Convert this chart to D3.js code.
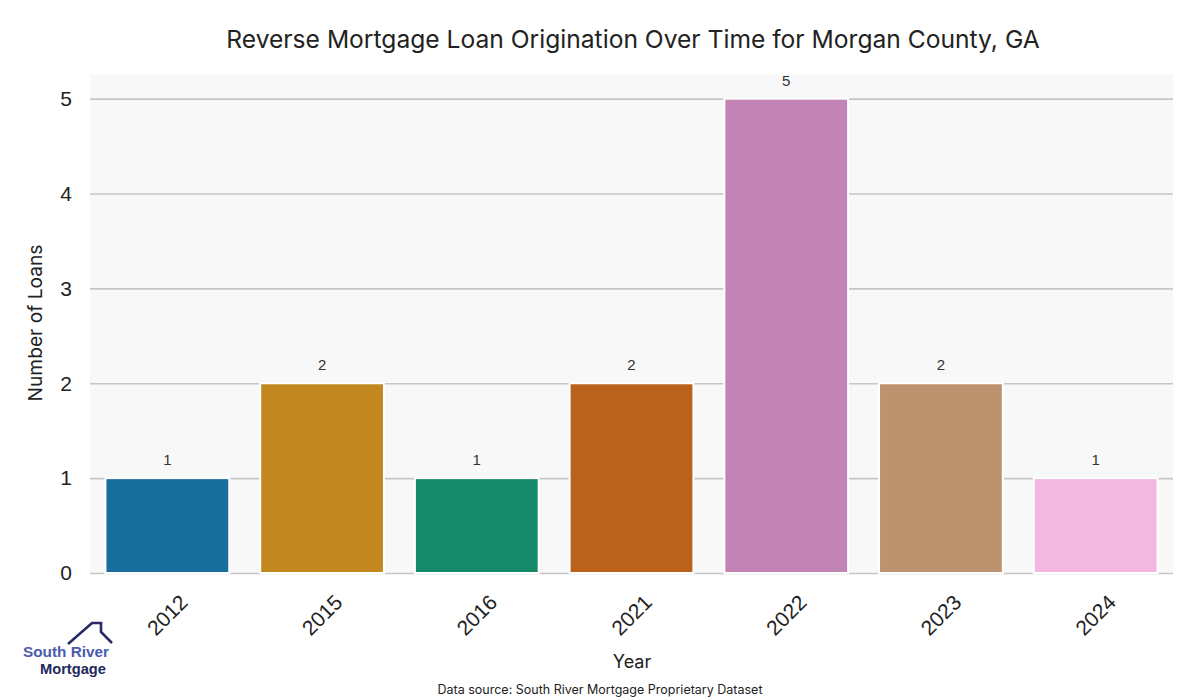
<!DOCTYPE html>
<html><head><meta charset="utf-8">
<script src="https://cdn.jsdelivr.net/npm/d3@7"></script>
<style>body{margin:0;background:#fff}svg{display:block}</style>
</head><body>
<svg id="c" width="1200" height="700"></svg>
<script>
const years = ["2012","2015","2016","2021","2022","2023","2024"];
const loans = [1,2,1,2,5,2,1];
const yTicks = [0,1,2,3,4,5];
const palette = ["#0173b2","#de8f05","#029e73","#d55e00","#cc78bc","#ca9161","#fbafe4"];
const titleText = "Reverse Mortgage Loan Origination Over Time for Morgan County, GA";
const xLabel = "Year", yLabel = "Number of Loans";
const sourceText = "Data source: South River Mortgage Proprietary Dataset";

const svg = d3.select("#c");
const m = {l:90, r:1173, t:74, b:573};
const x = d3.scaleBand().domain(years).range([m.l, m.r]).paddingInner(0.2).paddingOuter(0.1);
const y = d3.scaleLinear().domain([0,5.26]).range([m.b, m.t]);
const desat = c => { const h = d3.hsl(c); h.s *= 0.75; return h.formatHex(); };
const jak = "Inter, 'Noto Sans', sans-serif";

svg.append("rect").attr("x",m.l).attr("y",m.t).attr("width",m.r-m.l).attr("height",m.b-m.t).attr("fill","#f8f8f8");

// y axis gridlines + labels
const ya = svg.append("g").attr("transform",`translate(${m.l},0)`)
  .call(d3.axisLeft(y).tickValues(yTicks).tickSize(-(m.r-m.l)).tickPadding(18).tickFormat(d3.format("d")));
ya.select(".domain").remove();
ya.selectAll(".tick line").attr("stroke","#c6c6c6").attr("stroke-width",1.6);
ya.selectAll(".tick text").attr("font-family","'Liberation Sans', Arial, sans-serif").attr("font-size",21).attr("fill","#222");

// bars
svg.append("g").selectAll("rect").data(years).join("rect")
  .attr("x",d=>x(d)).attr("width",x.bandwidth())
  .attr("y",(d,i)=>y(loans[i])).attr("height",(d,i)=>y(0)-y(loans[i]))
  .attr("fill",(d,i)=>desat(palette[i])).attr("stroke","#fff").attr("stroke-width",2);

// value labels
svg.append("g").selectAll("text").data(years).join("text")
  .attr("x",d=>x(d)+x.bandwidth()/2).attr("y",(d,i)=>y(loans[i])-13)
  .attr("text-anchor","middle").attr("font-family","'Liberation Sans', Arial, sans-serif")
  .attr("font-size",15).attr("fill","#333").text((d,i)=>loans[i]);

// x axis tick labels
const xa = svg.append("g").attr("transform",`translate(0,${m.b})`).call(d3.axisBottom(x).tickSize(0).tickPadding(0));
xa.select(".domain").remove();
xa.selectAll(".tick text").attr("font-family","'Liberation Sans', Arial, sans-serif").attr("font-size",21).attr("fill","#222")
  .attr("text-anchor","middle").attr("dy","0.35em").attr("y",42)
  .attr("transform","rotate(-45,0,42)");

// title
const t = svg.append("text").attr("x",633).attr("y",48).attr("text-anchor","middle")
  .attr("font-family",jak).attr("font-size",26).attr("fill","#222").text(titleText);
const tw = t.node().getComputedTextLength(); t.attr("font-size", 26*814/tw);

// axis labels
svg.append("text").attr("x",632).attr("y",668).attr("text-anchor","middle")
  .attr("font-family",jak).attr("font-size",18).attr("fill","#222").text(xLabel);
const yl = svg.append("text").attr("transform","translate(42,323) rotate(-90)").attr("text-anchor","middle")
  .attr("font-family",jak).attr("font-size",17).attr("fill","#222").text(yLabel);
const ylw = yl.node().getComputedTextLength(); yl.attr("font-size", 17*157/ylw);
const s = svg.append("text").attr("x",600).attr("y",694).attr("text-anchor","middle")
  .attr("font-family",jak).attr("font-size",13).attr("fill","#222").text(sourceText);
const sw = s.node().getComputedTextLength(); s.attr("font-size", 13*325/sw);

// logo
const logo = svg.append("g");
logo.append("path").attr("d","M68,644 L92,623 L101,623 L101,632 L112,643")
  .attr("fill","none").attr("stroke","#262b63").attr("stroke-width",2.6).attr("stroke-linejoin","miter");
const l1 = logo.append("text").attr("x",23).attr("y",657).attr("font-family","'Liberation Sans', Arial, sans-serif")
  .attr("font-weight",700).attr("font-size",15).attr("fill","#4a5bb0").text("South River");
l1.attr("font-size", 15*86/l1.node().getComputedTextLength());
const l2 = logo.append("text").attr("x",40).attr("y",674).attr("font-family","'Liberation Sans', Arial, sans-serif")
  .attr("font-weight",700).attr("font-size",15).attr("fill","#232a5c").text("Mortgage");
l2.attr("font-size", 15*66/l2.node().getComputedTextLength());
</script>
</body></html>
